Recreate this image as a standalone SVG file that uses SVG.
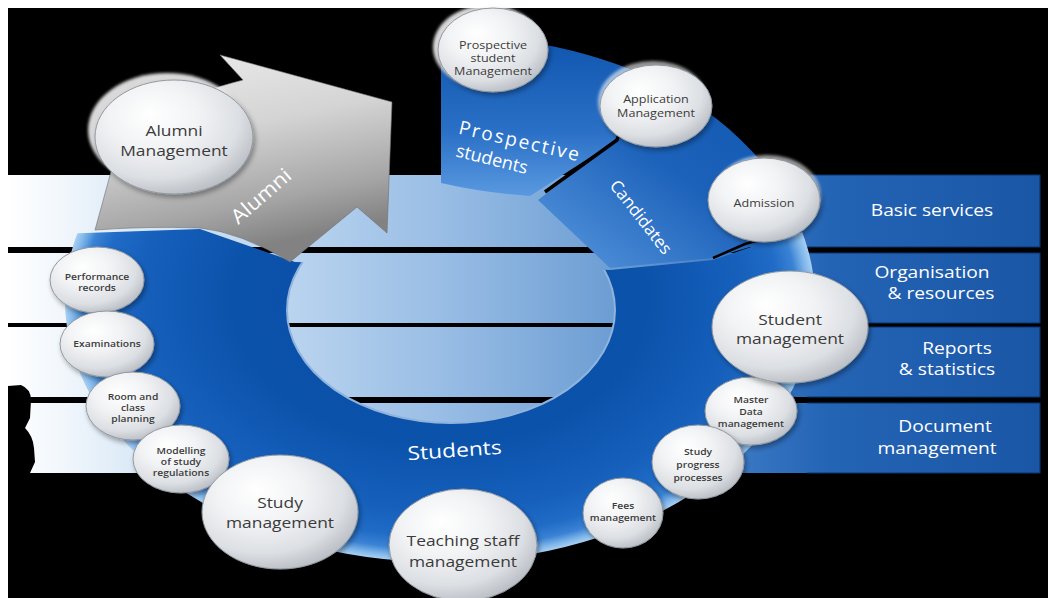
<svg xmlns="http://www.w3.org/2000/svg" width="1048" height="598" viewBox="0 0 1048 598">
  <defs>
    <style>
      .lbl { font-family: 'Open Sans', 'Liberation Sans', sans-serif; fill: #3b3b3b; text-anchor: middle; }
      .lg { font-size: 14.5px; }
      .md { font-size: 10.5px; }
      .sm { font-size: 8.6px; font-weight: 600; }
      .wt { font-family: 'Open Sans', 'Liberation Sans', sans-serif; fill: #ffffff; text-anchor: middle; }
      .band-txt { font-size: 16px; }
      .orb { fill: url(#orbGrad); stroke: #9298a0; stroke-width: 1; filter: url(#orbShadow); }
      .halo { fill: #ffffff; opacity: 0.85; }
      .halo-soft { fill: #ffffff; opacity: 0.6; }
      .band { fill: url(#bandGrad); }
      .band-edge { fill: none; stroke: #0c336c; stroke-width: 1.2; }
      .gap { fill: none; stroke: #000; stroke-linejoin: round; }
    </style>
    <linearGradient id="bandGrad" gradientUnits="userSpaceOnUse" x1="8" y1="0" x2="1040" y2="0">
      <stop offset="0" stop-color="#ffffff"/>
      <stop offset="0.05" stop-color="#f2f7fc"/>
      <stop offset="0.128" stop-color="#d9e8f6"/>
      <stop offset="0.273" stop-color="#bad4ef"/>
      <stop offset="0.428" stop-color="#97bce4"/>
      <stop offset="0.588" stop-color="#6c9dd3"/>
      <stop offset="0.729" stop-color="#3473c0"/>
      <stop offset="0.797" stop-color="#2464b5"/>
      <stop offset="1" stop-color="#1a56a6"/>
    </linearGradient>
    <radialGradient id="ringGrad" cx="0.5" cy="0.5" r="0.5">
      <stop offset="0" stop-color="#0a4ea6"/>
      <stop offset="0.55" stop-color="#0b52aa"/>
      <stop offset="0.8" stop-color="#1660bc"/>
      <stop offset="0.9" stop-color="#1f6bc6"/>
      <stop offset="0.95" stop-color="#3a82d4"/>
      <stop offset="0.98" stop-color="#7fb6ea"/>
      <stop offset="1" stop-color="#a8cff3"/>
    </radialGradient>
    <linearGradient id="prospGrad" x1="0" y1="0" x2="0" y2="1">
      <stop offset="0" stop-color="#0f55ae"/>
      <stop offset="0.6" stop-color="#2a70c6"/>
      <stop offset="1" stop-color="#5a99e0"/>
    </linearGradient>
    <linearGradient id="candGrad" x1="1" y1="0" x2="0" y2="1">
      <stop offset="0" stop-color="#0d54ad"/>
      <stop offset="0.5" stop-color="#1c62ba"/>
      <stop offset="1" stop-color="#5a98df"/>
    </linearGradient>
    <linearGradient id="arrowGrad" x1="0" y1="0" x2="0.3" y2="1">
      <stop offset="0" stop-color="#eeeeee"/>
      <stop offset="0.45" stop-color="#d4d4d4"/>
      <stop offset="0.8" stop-color="#a6a6a6"/>
      <stop offset="1" stop-color="#828282"/>
    </linearGradient>
    <radialGradient id="orbGrad" cx="0.4" cy="0.35" r="0.7" fx="0.35" fy="0.3">
      <stop offset="0" stop-color="#ffffff"/>
      <stop offset="0.4" stop-color="#f2f3f5"/>
      <stop offset="0.75" stop-color="#dcdfe3"/>
      <stop offset="1" stop-color="#b5bac1"/>
    </radialGradient>
    <filter id="orbShadow" x="-20%" y="-20%" width="140%" height="150%">
      <feDropShadow dx="2" dy="3" stdDeviation="2.5" flood-color="#000" flood-opacity="0.35"/>
    </filter>
    <filter id="haloBlur" x="-20%" y="-20%" width="140%" height="140%">
      <feGaussianBlur stdDeviation="1.5"/>
    </filter>
    <!-- the students ring keeps everything below the alumni / candidates cut -->
    <clipPath id="ringClip">
      <path d="M0,236 L200,229 L295,262 L610,270 L713,260 L760,244 L802,232 L1048,232 L1048,598 L0,598 Z"/>
    </clipPath>
  </defs>

  <!-- backdrop -->
  <rect x="0" y="0" width="1048" height="598" fill="#ffffff"/>
  <rect x="8" y="8" width="1040" height="590" fill="#000000"/>

  <!-- horizontal service bands -->
  <g id="bands">
    <rect class="band" x="8" y="175" width="1032" height="72"/>
    <rect class="band" x="8" y="253" width="1032" height="70"/>
    <rect class="band" x="8" y="327" width="1032" height="70"/>
    <rect class="band" x="8" y="403" width="1032" height="70"/>
    <path class="band-edge" d="M807,175 H1040 V247 H807"/>
    <path class="band-edge" d="M807,253 H1040 V323 H807"/>
    <path class="band-edge" d="M807,327 H1040 V397 H807"/>
    <path class="band-edge" d="M807,403 H1040 V473 H807"/>
    <path d="M8,386 L21,385 Q31,389 31,400 L30,418 L25,428 Q33,436 34,448 L35,462 L30,473 L8,473 Z" fill="#000"/>
  </g>

  <!-- students ring -->
  <g id="students-ring" clip-path="url(#ringClip)">
    <path fill="url(#ringGrad)" fill-rule="evenodd" d="M65,300 A375,262 0 1,0 815,300 A375,262 0 1,0 65,300 Z M287,310 A164,113 0 1,0 615,310 A164,113 0 1,0 287,310 Z"/>
    <ellipse cx="451" cy="310" rx="164" ry="113" fill="none" stroke="#8fb3dd" stroke-width="2"/>
    <text class="wt" font-size="19" transform="translate(455,457) rotate(-4) scale(1.2,1)">Students</text>
  </g>

  <!-- prospective students segment -->
  <g id="prospective-segment">
    <path fill="url(#prospGrad)" d="M441,36 A375,262 0 0,1 632,70 L622,124 L617,140 L530,196 Q485,193 441,183 Z"/>
    <text class="wt" font-size="19" letter-spacing="2" transform="translate(520,141) rotate(13)" dy="0.35em">Prospective</text>
    <text class="wt" font-size="18" transform="translate(492,159) rotate(14)" dy="0.35em">students</text>
  </g>

  <!-- candidates segment -->
  <g id="candidates-segment">
    <path fill="url(#candGrad)" d="M538,200 L617,140 L622,124 L632,70 A375,262 0 0,1 802,232 L760,244 L713,258 L610,268 Z"/>
    <text class="wt" font-size="17" transform="translate(641,217) rotate(52)" dy="0.35em">Candidates</text>
  </g>

  <!-- alumni arrow -->
  <g id="alumni-arrow">
    <path fill="url(#arrowGrad)" stroke="#6e6e6e" stroke-width="0.6" d="M95,230 L112,168 Q150,102 243,80 L220,55 L392,102 L387,233 L357,207 L290,262 Q240,232 200,228 Q150,226 95,230 Z"/>
    <text class="wt" font-size="20" transform="translate(261,196) rotate(-41) scale(1.1,1)" dy="0.35em">Alumni</text>
  </g>

  <!-- segment separators -->
  <g id="connectors">
    <path class="gap" stroke-width="3.5" d="M545,192 L617,140 L623,122"/>
    <path class="gap" stroke-width="2.5" d="M713,258 L745,244 L770,237"/>
  </g>

  <!-- band labels -->
  <g id="band-labels">
    <text class="wt band-txt" transform="translate(932,0) scale(1.2,1)" y="216">Basic services</text>
    <text class="wt band-txt" transform="translate(932,0) scale(1.2,1)" y="278">Organisation</text>
    <text class="wt band-txt" transform="translate(941,0) scale(1.2,1)" y="299">&amp; resources</text>
    <text class="wt band-txt" transform="translate(957,0) scale(1.2,1)" y="354">Reports</text>
    <text class="wt band-txt" transform="translate(947,0) scale(1.2,1)" y="375">&amp; statistics</text>
    <text class="wt band-txt" transform="translate(945,0) scale(1.2,1)" y="432">Document</text>
    <text class="wt band-txt" transform="translate(937,0) scale(1.2,1)" y="454">management</text>
  </g>

  <!-- process nodes -->
  <g id="performance-records">
    <ellipse class="orb" cx="97" cy="280" rx="47" ry="33"/>
    <text class="lbl sm" transform="translate(97,0) scale(1.2,1)"><tspan x="0" y="280">Performance</tspan><tspan x="0" y="291">records</tspan></text>
  </g>
  <g id="examinations">
    <ellipse class="orb" cx="107" cy="344" rx="47" ry="33"/>
    <text class="lbl sm" transform="translate(107,0) scale(1.2,1)" y="347">Examinations</text>
  </g>
  <g id="room-class-planning">
    <ellipse class="orb" cx="133" cy="406" rx="47" ry="34"/>
    <text class="lbl sm" transform="translate(133,0) scale(1.2,1)"><tspan x="0" y="400">Room and</tspan><tspan x="0" y="411">class</tspan><tspan x="0" y="422">planning</tspan></text>
  </g>
  <g id="modelling-study-regulations">
    <ellipse class="orb" cx="181" cy="459" rx="48" ry="34"/>
    <text class="lbl sm" transform="translate(181,0) scale(1.2,1)"><tspan x="0" y="454">Modelling</tspan><tspan x="0" y="465">of study</tspan><tspan x="0" y="476">regulations</tspan></text>
  </g>
  <g id="master-data-management">
    <ellipse class="orb" cx="751" cy="411" rx="46" ry="34"/>
    <text class="lbl sm" transform="translate(751,0) scale(1.2,1)"><tspan x="0" y="403">Master</tspan><tspan x="0" y="415">Data</tspan><tspan x="0" y="427">management</tspan></text>
  </g>
  <g id="study-progress-processes">
    <ellipse class="orb" cx="698" cy="462" rx="46" ry="37"/>
    <text class="lbl sm" transform="translate(698,0) scale(1.2,1)"><tspan x="0" y="455">Study</tspan><tspan x="0" y="468">progress</tspan><tspan x="0" y="481">processes</tspan></text>
  </g>
  <g id="fees-management">
    <ellipse class="orb" cx="623" cy="513" rx="40" ry="35"/>
    <text class="lbl sm" transform="translate(623,0) scale(1.2,1)"><tspan x="0" y="509">Fees</tspan><tspan x="0" y="521">management</tspan></text>
  </g>
  <g id="study-management">
    <ellipse class="orb" cx="280" cy="512" rx="78" ry="57"/>
    <text class="lbl lg" transform="translate(280,0) scale(1.2,1)"><tspan x="0" y="508">Study</tspan><tspan x="0" y="528">management</tspan></text>
  </g>
  <g id="teaching-staff-management">
    <ellipse class="orb" cx="463" cy="545" rx="74" ry="56"/>
    <text class="lbl lg" transform="translate(463,0) scale(1.2,1)"><tspan x="0" y="546">Teaching staff</tspan><tspan x="0" y="567">management</tspan></text>
  </g>
  <g id="student-management">
    <ellipse class="orb" cx="790" cy="327" rx="78" ry="56"/>
    <text class="lbl lg" transform="translate(790,0) scale(1.2,1)"><tspan x="0" y="325">Student</tspan><tspan x="0" y="344">management</tspan></text>
  </g>
  <g id="admission">
    <ellipse class="halo-soft" cx="767" cy="196" rx="54" ry="41" filter="url(#haloBlur)"/>
    <ellipse class="orb" cx="764" cy="200" rx="56" ry="42"/>
    <text class="lbl md" transform="translate(764,0) scale(1.2,1)" y="207">Admission</text>
  </g>
  <g id="application-management">
    <ellipse class="halo-soft" cx="653" cy="102" rx="55" ry="41" filter="url(#haloBlur)"/>
    <ellipse class="orb" cx="656" cy="106" rx="56" ry="41"/>
    <text class="lbl md" transform="translate(656,0) scale(1.2,1)"><tspan x="0" y="103">Application</tspan><tspan x="0" y="117">Management</tspan></text>
  </g>
  <g id="prospective-student-management">
    <ellipse class="halo" cx="488" cy="47" rx="55" ry="42" filter="url(#haloBlur)"/>
    <ellipse class="orb" cx="493" cy="50" rx="55" ry="42"/>
    <text class="lbl md" transform="translate(493,0) scale(1.2,1)"><tspan x="0" y="49">Prospective</tspan><tspan x="0" y="62">student</tspan><tspan x="0" y="75">Management</tspan></text>
  </g>
  <g id="alumni-management">
    <ellipse class="halo" cx="167" cy="130" rx="79" ry="57" filter="url(#haloBlur)"/>
    <ellipse class="orb" cx="174" cy="137" rx="79" ry="57"/>
    <text class="lbl lg" transform="translate(174,0) scale(1.2,1)"><tspan x="0" y="136">Alumni</tspan><tspan x="0" y="156">Management</tspan></text>
  </g>
</svg>
